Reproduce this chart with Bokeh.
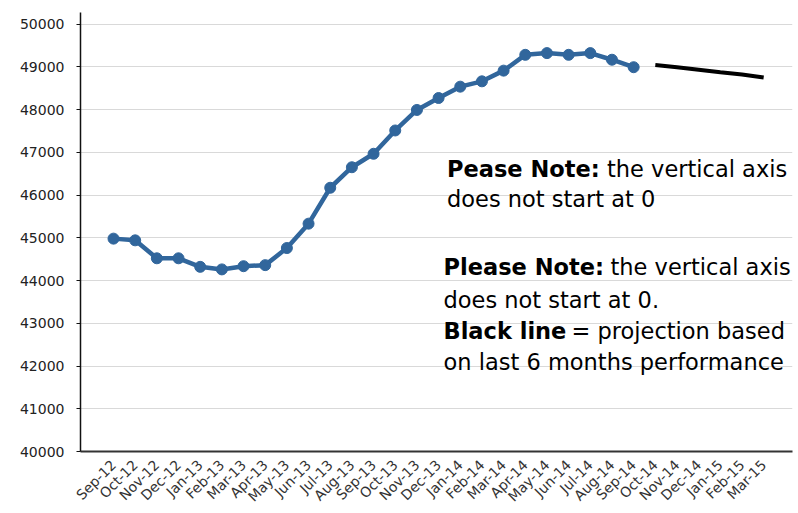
import math

from bokeh.embed import file_html
from bokeh.models import FixedTicker, Label
from bokeh.plotting import figure
from bokeh.resources import INLINE

# Monthly categories on the x axis
months = [
    "Sep-12", "Oct-12", "Nov-12", "Dec-12", "Jan-13", "Feb-13", "Mar-13",
    "Apr-13", "May-13", "Jun-13", "Jul-13", "Aug-13", "Sep-13", "Oct-13",
    "Nov-13", "Dec-13", "Jan-14", "Feb-14", "Mar-14", "Apr-14", "May-14",
    "Jun-14", "Jul-14", "Aug-14", "Sep-14", "Oct-14", "Nov-14", "Dec-14",
    "Jan-15", "Feb-15", "Mar-15",
]

# Recorded values, Sep-12 .. Sep-14
actual = [
    44980, 44940, 44520, 44520, 44320, 44260, 44335, 44360, 44760, 45330,
    46170, 46650, 46965, 47510, 47990, 48270, 48535, 48660, 48910, 49280,
    49320, 49280, 49320, 49165, 48990,
]

# Projection, Oct-14 .. Mar-15
projection = [49040, 48990, 48930, 48870, 48820, 48750]

y_ticks = [40000, 41000, 42000, 43000, 44000, 45000, 46000, 47000, 48000, 49000, 50000]

actual_x = list(range(len(actual)))
proj_x = [months.index(m) for m in months[len(actual):]]

X_LO, X_HI = -1.523, 31.33
Y_LO, Y_HI = 40000, 50270
LEFT, RIGHT, TOP, BOTTOM = 80, 6, 12, 61
W, H = 798, 513
FRAME_W = W - LEFT - RIGHT
FRAME_H = H - TOP - BOTTOM


def at_x(px):
    return X_LO + (px - LEFT) * (X_HI - X_LO) / FRAME_W


def at_y(py):
    return Y_LO + (TOP + FRAME_H - py) * (Y_HI - Y_LO) / FRAME_H


p = figure(
    width=W, height=H,
    x_range=(X_LO, X_HI), y_range=(Y_LO, Y_HI),
    output_backend="svg", toolbar_location=None,
    min_border_left=LEFT, min_border_right=RIGHT,
    min_border_top=TOP, min_border_bottom=BOTTOM,
)
p.outline_line_color = None
p.background_fill_color = "white"
p.border_fill_color = "white"

# grid: horizontal only
p.xgrid.visible = False
p.ygrid.ticker = FixedTicker(ticks=y_ticks)
p.ygrid.grid_line_color = "#d9d9d9"
p.ygrid.grid_line_width = 1

# y axis
p.yaxis.ticker = FixedTicker(ticks=y_ticks)
p.yaxis.major_label_overrides = {t: str(t) for t in y_ticks}
p.yaxis.axis_line_color = "#111111"
p.yaxis.axis_line_width = 1.5
p.yaxis.major_tick_line_color = "#111111"
p.yaxis.major_tick_out = 4
p.yaxis.major_tick_in = 0
p.yaxis.minor_tick_line_color = None
p.yaxis.major_label_standoff = 12
p.yaxis.major_label_text_font = "DejaVu Sans"
p.yaxis.major_label_text_font_size = "14px"
p.yaxis.major_label_text_color = "#222222"

# x axis with month labels
p.xaxis.ticker = FixedTicker(ticks=list(range(len(months))))
p.xaxis.major_label_overrides = {i: m for i, m in enumerate(months)}
p.xaxis.major_label_orientation = math.pi / 4
p.xaxis.axis_line_color = "#333333"
p.xaxis.axis_line_width = 2
p.xaxis.major_tick_line_color = None
p.xaxis.minor_tick_line_color = None
p.xaxis.major_label_standoff = 5
p.xaxis.major_label_text_font = "DejaVu Sans"
p.xaxis.major_label_text_font_size = "14px"
p.xaxis.major_label_text_color = "#333333"

# recorded series
blue = "#31669c"
p.line(actual_x, actual, line_color=blue, line_width=4.5)
p.scatter(actual_x, actual, size=11, fill_color=blue, line_color=blue)

# projection
p.line(proj_x, projection, line_color="black", line_width=4)

# notes
FONT = "DejaVu Sans"
SIZE = "22.5px"


def note(px, py, text, bold=False):
    p.add_layout(Label(
        x=at_x(px), y=at_y(py), text=text,
        text_font=FONT, text_font_size=SIZE,
        text_font_style="bold" if bold else "normal",
        text_color="black", text_baseline="alphabetic", text_align="left",
    ))


note(446.5, 168.5, "Pease Note:", bold=True)
note(606.5, 168.5, "the vertical axis")
note(446.5, 198.5, "does not start at 0")

note(443, 267.5, "Please Note:", bold=True)
note(610, 267.5, "the vertical axis")
note(443, 300, "does not start at 0.")
note(443, 331, "Black line", bold=True)
note(571, 331, "= projection based")
note(443, 362, "on last 6 months performance")

open("out.html", "w").write(file_html(p, INLINE))
